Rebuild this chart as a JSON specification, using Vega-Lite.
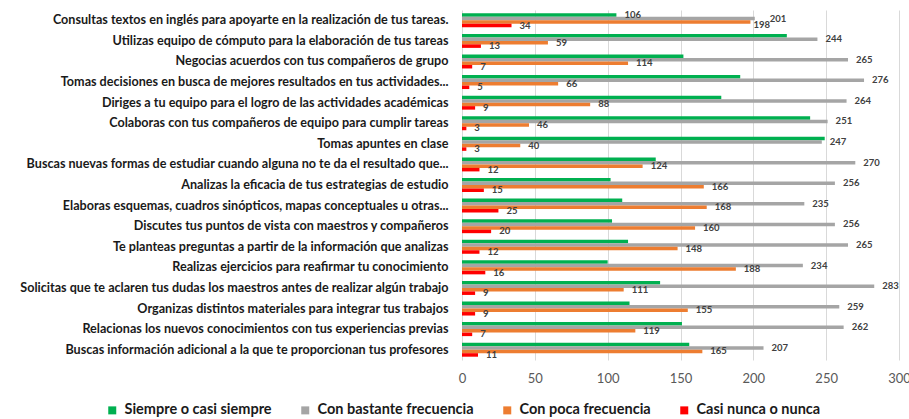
{
  "$schema": "https://vega.github.io/schema/vega-lite/v6.json",
  "autosize": "none",
  "width": 437,
  "height": 350,
  "padding": {"left": 462, "top": 10, "right": 10, "bottom": 59},
  "background": "white",
  "config": {"view": {"stroke": null}, "font": "Lato"},
  "data": {"values": [
    {"q": "Consultas textos en inglés para apoyarte en la realización de tus tareas.", "s": "Siempre o casi siempre", "v": 106},
    {"q": "Consultas textos en inglés para apoyarte en la realización de tus tareas.", "s": "Con bastante frecuencia", "v": 201},
    {"q": "Consultas textos en inglés para apoyarte en la realización de tus tareas.", "s": "Con poca frecuencia", "v": 198},
    {"q": "Consultas textos en inglés para apoyarte en la realización de tus tareas.", "s": "Casi nunca o nunca", "v": 34},
    {"q": "Utilizas equipo de cómputo para la elaboración de tus tareas", "s": "Siempre o casi siempre", "v": 223},
    {"q": "Utilizas equipo de cómputo para la elaboración de tus tareas", "s": "Con bastante frecuencia", "v": 244},
    {"q": "Utilizas equipo de cómputo para la elaboración de tus tareas", "s": "Con poca frecuencia", "v": 59},
    {"q": "Utilizas equipo de cómputo para la elaboración de tus tareas", "s": "Casi nunca o nunca", "v": 13},
    {"q": "Negocias acuerdos con tus compañeros de grupo", "s": "Siempre o casi siempre", "v": 152},
    {"q": "Negocias acuerdos con tus compañeros de grupo", "s": "Con bastante frecuencia", "v": 265},
    {"q": "Negocias acuerdos con tus compañeros de grupo", "s": "Con poca frecuencia", "v": 114},
    {"q": "Negocias acuerdos con tus compañeros de grupo", "s": "Casi nunca o nunca", "v": 7},
    {"q": "Tomas decisiones en busca de mejores resultados en tus actividades...", "s": "Siempre o casi siempre", "v": 191},
    {"q": "Tomas decisiones en busca de mejores resultados en tus actividades...", "s": "Con bastante frecuencia", "v": 276},
    {"q": "Tomas decisiones en busca de mejores resultados en tus actividades...", "s": "Con poca frecuencia", "v": 66},
    {"q": "Tomas decisiones en busca de mejores resultados en tus actividades...", "s": "Casi nunca o nunca", "v": 5},
    {"q": "Diriges a tu equipo para el logro de las actividades académicas", "s": "Siempre o casi siempre", "v": 178},
    {"q": "Diriges a tu equipo para el logro de las actividades académicas", "s": "Con bastante frecuencia", "v": 264},
    {"q": "Diriges a tu equipo para el logro de las actividades académicas", "s": "Con poca frecuencia", "v": 88},
    {"q": "Diriges a tu equipo para el logro de las actividades académicas", "s": "Casi nunca o nunca", "v": 9},
    {"q": "Colaboras con tus compañeros de equipo para cumplir tareas", "s": "Siempre o casi siempre", "v": 239},
    {"q": "Colaboras con tus compañeros de equipo para cumplir tareas", "s": "Con bastante frecuencia", "v": 251},
    {"q": "Colaboras con tus compañeros de equipo para cumplir tareas", "s": "Con poca frecuencia", "v": 46},
    {"q": "Colaboras con tus compañeros de equipo para cumplir tareas", "s": "Casi nunca o nunca", "v": 3},
    {"q": "Tomas apuntes en clase", "s": "Siempre o casi siempre", "v": 249},
    {"q": "Tomas apuntes en clase", "s": "Con bastante frecuencia", "v": 247},
    {"q": "Tomas apuntes en clase", "s": "Con poca frecuencia", "v": 40},
    {"q": "Tomas apuntes en clase", "s": "Casi nunca o nunca", "v": 3},
    {"q": "Buscas nuevas formas de estudiar cuando alguna no te da el resultado que...", "s": "Siempre o casi siempre", "v": 133},
    {"q": "Buscas nuevas formas de estudiar cuando alguna no te da el resultado que...", "s": "Con bastante frecuencia", "v": 270},
    {"q": "Buscas nuevas formas de estudiar cuando alguna no te da el resultado que...", "s": "Con poca frecuencia", "v": 124},
    {"q": "Buscas nuevas formas de estudiar cuando alguna no te da el resultado que...", "s": "Casi nunca o nunca", "v": 12},
    {"q": "Analizas la eficacia de tus estrategias de estudio", "s": "Siempre o casi siempre", "v": 102},
    {"q": "Analizas la eficacia de tus estrategias de estudio", "s": "Con bastante frecuencia", "v": 256},
    {"q": "Analizas la eficacia de tus estrategias de estudio", "s": "Con poca frecuencia", "v": 166},
    {"q": "Analizas la eficacia de tus estrategias de estudio", "s": "Casi nunca o nunca", "v": 15},
    {"q": "Elaboras esquemas, cuadros sinópticos, mapas conceptuales u otras...", "s": "Siempre o casi siempre", "v": 110},
    {"q": "Elaboras esquemas, cuadros sinópticos, mapas conceptuales u otras...", "s": "Con bastante frecuencia", "v": 235},
    {"q": "Elaboras esquemas, cuadros sinópticos, mapas conceptuales u otras...", "s": "Con poca frecuencia", "v": 168},
    {"q": "Elaboras esquemas, cuadros sinópticos, mapas conceptuales u otras...", "s": "Casi nunca o nunca", "v": 25},
    {"q": "Discutes tus puntos de vista con maestros y compañeros", "s": "Siempre o casi siempre", "v": 103},
    {"q": "Discutes tus puntos de vista con maestros y compañeros", "s": "Con bastante frecuencia", "v": 256},
    {"q": "Discutes tus puntos de vista con maestros y compañeros", "s": "Con poca frecuencia", "v": 160},
    {"q": "Discutes tus puntos de vista con maestros y compañeros", "s": "Casi nunca o nunca", "v": 20},
    {"q": "Te planteas preguntas a partir de la información que analizas", "s": "Siempre o casi siempre", "v": 114},
    {"q": "Te planteas preguntas a partir de la información que analizas", "s": "Con bastante frecuencia", "v": 265},
    {"q": "Te planteas preguntas a partir de la información que analizas", "s": "Con poca frecuencia", "v": 148},
    {"q": "Te planteas preguntas a partir de la información que analizas", "s": "Casi nunca o nunca", "v": 12},
    {"q": "Realizas ejercicios para reafirmar tu conocimiento", "s": "Siempre o casi siempre", "v": 100},
    {"q": "Realizas ejercicios para reafirmar tu conocimiento", "s": "Con bastante frecuencia", "v": 234},
    {"q": "Realizas ejercicios para reafirmar tu conocimiento", "s": "Con poca frecuencia", "v": 188},
    {"q": "Realizas ejercicios para reafirmar tu conocimiento", "s": "Casi nunca o nunca", "v": 16},
    {"q": "Solicitas que te aclaren tus dudas los maestros antes de realizar algún trabajo", "s": "Siempre o casi siempre", "v": 136},
    {"q": "Solicitas que te aclaren tus dudas los maestros antes de realizar algún trabajo", "s": "Con bastante frecuencia", "v": 283},
    {"q": "Solicitas que te aclaren tus dudas los maestros antes de realizar algún trabajo", "s": "Con poca frecuencia", "v": 111},
    {"q": "Solicitas que te aclaren tus dudas los maestros antes de realizar algún trabajo", "s": "Casi nunca o nunca", "v": 9},
    {"q": "Organizas distintos materiales para integrar tus trabajos", "s": "Siempre o casi siempre", "v": 115},
    {"q": "Organizas distintos materiales para integrar tus trabajos", "s": "Con bastante frecuencia", "v": 259},
    {"q": "Organizas distintos materiales para integrar tus trabajos", "s": "Con poca frecuencia", "v": 155},
    {"q": "Organizas distintos materiales para integrar tus trabajos", "s": "Casi nunca o nunca", "v": 9},
    {"q": "Relacionas los nuevos conocimientos con tus experiencias previas", "s": "Siempre o casi siempre", "v": 151},
    {"q": "Relacionas los nuevos conocimientos con tus experiencias previas", "s": "Con bastante frecuencia", "v": 262},
    {"q": "Relacionas los nuevos conocimientos con tus experiencias previas", "s": "Con poca frecuencia", "v": 119},
    {"q": "Relacionas los nuevos conocimientos con tus experiencias previas", "s": "Casi nunca o nunca", "v": 7},
    {"q": "Buscas información adicional a la que te proporcionan tus profesores", "s": "Siempre o casi siempre", "v": 156},
    {"q": "Buscas información adicional a la que te proporcionan tus profesores", "s": "Con bastante frecuencia", "v": 207},
    {"q": "Buscas información adicional a la que te proporcionan tus profesores", "s": "Con poca frecuencia", "v": 165},
    {"q": "Buscas información adicional a la que te proporcionan tus profesores", "s": "Casi nunca o nunca", "v": 11}
  ]},
  "encoding": {
    "y": {"field": "q", "type": "nominal", "sort": null, "title": null,
      "scale": {"paddingInner": 0.32, "paddingOuter": 0.16},
      "axis": {"domain": false, "ticks": false, "labelPadding": 14, "labelLimit": 600,
        "labelFont": "Lato", "labelFontSize": 12.6, "labelFontWeight": "bold", "labelColor": "#1a1a1a"}},
    "yOffset": {"field": "s", "type": "nominal", "sort": null},
    "x": {"field": "v", "type": "quantitative", "title": null,
      "scale": {"domain": [0, 300], "nice": false},
      "axis": {"values": [0, 50, 100, 150, 200, 250, 300], "domain": false, "ticks": false,
        "gridColor": "#d9d9d9", "labelPadding": 12, "labelFontSize": 13, "labelColor": "#595959",
        "labelFont": "Lato", "labelFlush": false}}
  },
  "layer": [
    {
      "mark": {"type": "bar"},
      "encoding": {
        "color": {"field": "s", "type": "nominal", "sort": null, "title": null,
          "scale": {"domain": ["Siempre o casi siempre", "Con bastante frecuencia", "Con poca frecuencia", "Casi nunca o nunca"],
            "range": ["#00B050", "#A5A5A5", "#ED7D31", "#FF0000"]},
          "legend": {"orient": "none", "legendX": -357, "legendY": 393, "direction": "horizontal",
            "symbolType": "square", "symbolSize": 64, "symbolStrokeWidth": 0, "symbolOpacity": 1,
            "labelFont": "Lato", "labelFontSize": 14.5, "labelFontWeight": "bold", "labelColor": "#1a1a1a",
            "labelOffset": 5, "columnPadding": 26, "labelLimit": 300}}
      }
    },
    {
      "transform": [{"filter": "(datum.s != 'Siempre o casi siempre' || datum.v == 106) && datum.v != 201 && datum.v != 198"}],
      "mark": {"type": "text", "align": "left", "baseline": "middle", "dx": 8,
        "fontSize": 9.5, "fontWeight": "bold", "font": "Lato", "color": "#404040"},
      "encoding": {"text": {"field": "v", "type": "quantitative"}}
    },
    {
      "transform": [{"filter": "datum.v == 201"}],
      "mark": {"type": "text", "align": "left", "baseline": "middle", "dx": 15, "dy": 0,
        "fontSize": 9.5, "fontWeight": "bold", "font": "Lato", "color": "#404040"},
      "encoding": {"text": {"field": "v", "type": "quantitative"}}
    },
    {
      "transform": [{"filter": "datum.v == 198"}],
      "mark": {"type": "text", "align": "left", "baseline": "middle", "dx": 3, "dy": 3,
        "fontSize": 9.5, "fontWeight": "bold", "font": "Lato", "color": "#404040"},
      "encoding": {"text": {"field": "v", "type": "quantitative"}}
    }
  ]
}
